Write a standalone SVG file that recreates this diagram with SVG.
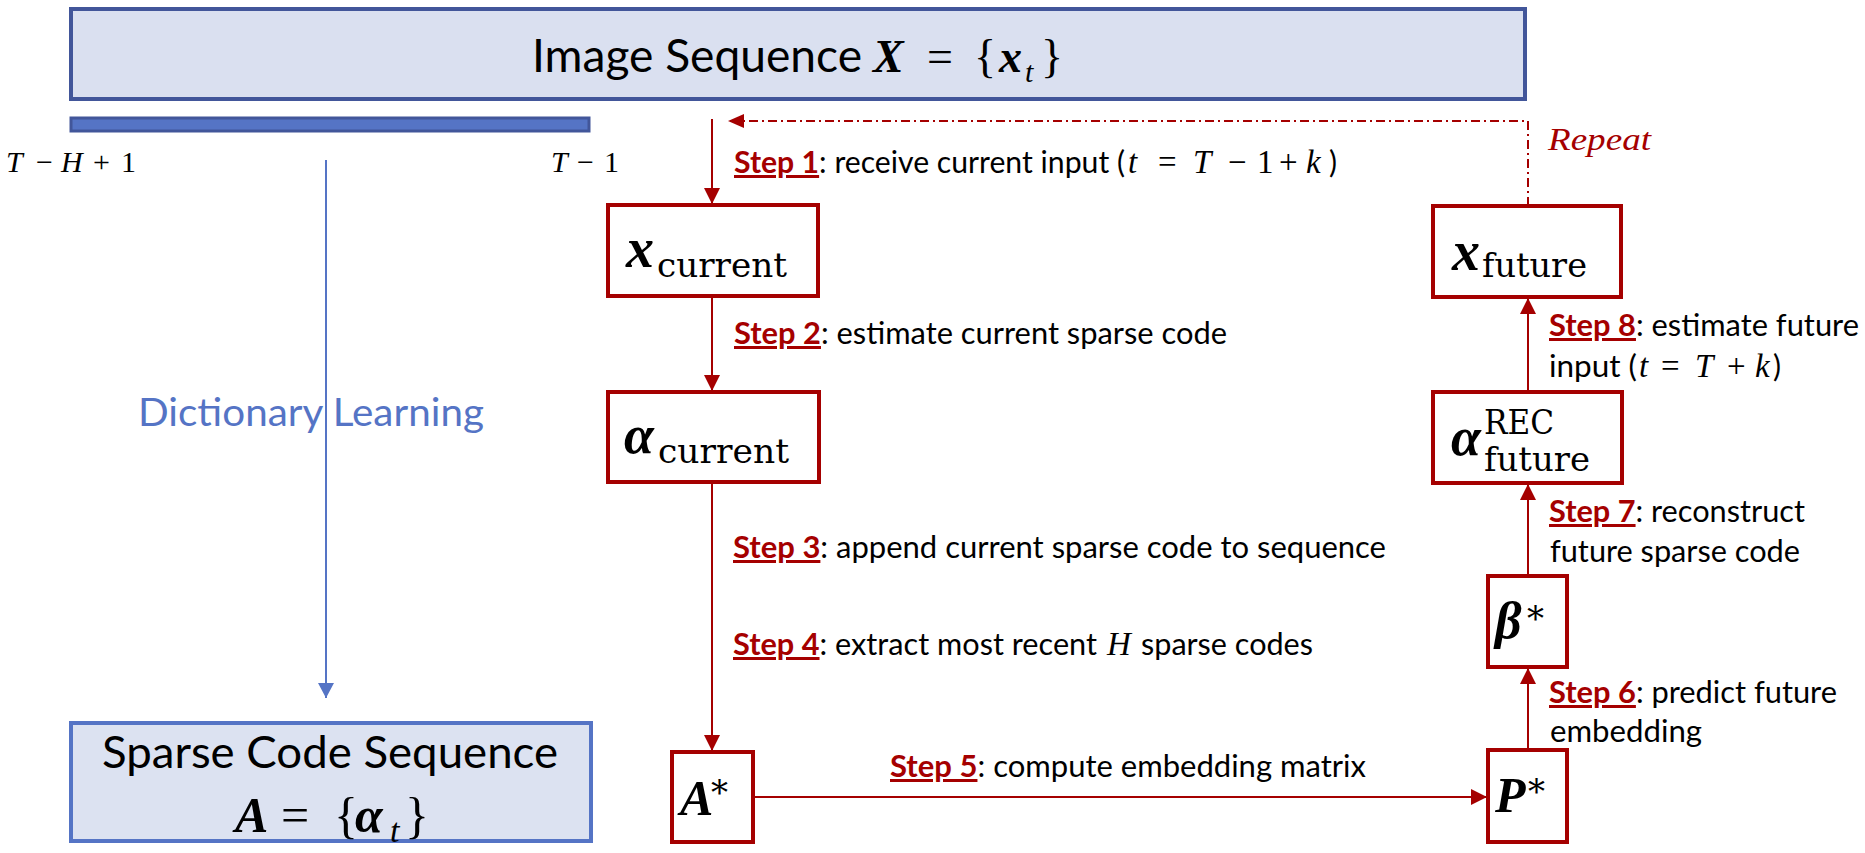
<svg xmlns="http://www.w3.org/2000/svg" width="1865" height="853" viewBox="0 0 1865 853">
<style>
.bluebox{fill:#dae0f0;stroke:#42569a;stroke-width:4}
.sbox{fill:#dce2f1;stroke:#5574c5;stroke-width:4}
.bar{fill:#5574c5;stroke:#42569a;stroke-width:3}
.rbox{fill:#fff;stroke:#a50000;stroke-width:4}
.conn{stroke:#a50000;stroke-width:2;fill:none}
.dash{stroke-dasharray:9 4 2 4}
.bline{stroke:#5574c5;stroke-width:2;fill:none}
.lbl{font-family:Lato,"Liberation Sans",sans-serif;font-size:30px;fill:#000}
.sn{fill:#a50000;font-weight:bold;text-decoration:underline}
.mb{font-family:"Liberation Serif",serif;font-weight:bold;font-style:italic;fill:#000}
.mi{font-family:"Liberation Serif",serif;font-style:italic;fill:#000}
.mr{font-family:"Liberation Serif",serif;fill:#000}
.sub{font-family:"DejaVu Serif",serif;font-size:34px;fill:#000}
.big{font-family:Lato,"Liberation Sans",sans-serif;fill:#000}
</style>
<defs>
<marker id="ar" markerUnits="userSpaceOnUse" markerWidth="16" markerHeight="16" viewBox="0 0 16 16" refX="16" refY="8" orient="auto"><path d="M0,0 L16,8 L0,16 z" fill="#a50000"/></marker>
<marker id="ard" markerUnits="userSpaceOnUse" markerWidth="16" markerHeight="14" viewBox="0 0 16 14" refX="16" refY="7" orient="auto"><path d="M0,0 L16,7 L0,14 z" fill="#a50000"/></marker>
<marker id="ab" markerUnits="userSpaceOnUse" markerWidth="15" markerHeight="16" viewBox="0 0 15 16" refX="15" refY="8" orient="auto"><path d="M0,0 L15,8 L0,16 z" fill="#5574c5"/></marker>
</defs>

<g id="image-sequence">
<rect class="bluebox" x="71" y="9" width="1454" height="90"/>
<text class="big" x="532" y="72" font-size="46" textLength="330" lengthAdjust="spacingAndGlyphs">Image Sequence</text>
<text y="72" font-size="46"><tspan class="mb" x="873">X</tspan><tspan class="mr" x="927">=</tspan><tspan class="mr" x="974">{</tspan><tspan class="mb" x="999">x</tspan><tspan class="mi" x="1025" y="82" font-size="30">t</tspan><tspan class="mr" x="1041" y="72">}</tspan></text>
</g>

<g id="time-window">
<rect class="bar" x="71" y="118" width="518" height="13"/>
<text y="172" font-size="30"><tspan class="mi" x="6">T</tspan><tspan class="mr" x="36">−</tspan><tspan class="mi" x="61">H</tspan><tspan class="mr" x="93">+</tspan><tspan class="mr" x="121">1</tspan></text>
<text y="172" font-size="30"><tspan class="mi" x="551">T</tspan><tspan class="mr" x="577">−</tspan><tspan class="mr" x="604">1</tspan></text>
</g>

<g id="sparse-code-sequence">
<rect class="sbox" x="71" y="723" width="520" height="118"/>
<text class="big" x="102" y="768" font-size="45" textLength="456" lengthAdjust="spacingAndGlyphs">Sparse Code Sequence</text>
<text y="832" font-size="50"><tspan class="mb" x="235">A</tspan><tspan class="mr" x="281">=</tspan><tspan class="mr" x="334">{</tspan><tspan class="mb" x="355">α</tspan><tspan class="mi" x="390" y="842" font-size="34">t</tspan><tspan class="mr" x="405" y="832">}</tspan></text>
</g>

<g id="dictionary-learning">
<text x="138" y="426" font-family="Lato, 'Liberation Sans', sans-serif" font-size="39" fill="#5574c5" textLength="346" lengthAdjust="spacingAndGlyphs">Dictionary Learning</text>
</g>

<g id="connectors">
<path class="bline" d="M326,160 V698" marker-end="url(#ab)"/>
<path class="conn" d="M712,119 V204" marker-end="url(#ar)"/>
<path class="conn" d="M712,296 V391" marker-end="url(#ar)"/>
<path class="conn" d="M712,482 V751" marker-end="url(#ar)"/>
<path class="conn" d="M753,797 H1487" marker-end="url(#ar)"/>
<path class="conn" d="M1528,750 V668" marker-end="url(#ar)"/>
<path class="conn" d="M1528,576 V484" marker-end="url(#ar)"/>
<path class="conn" d="M1528,392 V298" marker-end="url(#ar)"/>
<path class="conn dash" d="M1528,206 V121 H728" marker-end="url(#ard)"/>
</g>

<g id="x-current">
<rect class="rbox" x="608" y="205" width="210" height="91"/>
<text class="mb" x="626" y="267" font-size="56">x</text>
<text class="sub" x="657" y="277" textLength="130" lengthAdjust="spacingAndGlyphs">current</text>
</g>

<g id="alpha-current">
<rect class="rbox" x="608" y="392" width="211" height="90"/>
<text class="mb" x="624" y="453" font-size="54">α</text>
<text class="sub" x="658" y="463" textLength="131" lengthAdjust="spacingAndGlyphs">current</text>
</g>

<g id="A-star">
<rect class="rbox" x="672" y="752" width="81" height="90"/>
<text class="mb" x="680" y="815" font-size="50">A</text>
<text class="sub" x="711" y="804">*</text>
</g>

<g id="P-star">
<rect class="rbox" x="1488" y="750" width="79" height="92"/>
<text class="mb" x="1495" y="812" font-size="50">P</text>
<text class="sub" x="1528" y="803">*</text>
</g>

<g id="beta-star">
<rect class="rbox" x="1488" y="576" width="79" height="91"/>
<text class="mb" x="1495" y="638" font-size="52">β</text>
<text class="sub" x="1527" y="630">*</text>
</g>

<g id="alpha-future">
<rect class="rbox" x="1433" y="392" width="189" height="91"/>
<text class="mb" x="1451" y="455" font-size="54">α</text>
<text class="sub" x="1484" y="434" font-size="31" textLength="70" lengthAdjust="spacingAndGlyphs">REC</text>
<text class="sub" x="1484" y="471" textLength="106" lengthAdjust="spacingAndGlyphs">future</text>
</g>

<g id="x-future">
<rect class="rbox" x="1433" y="206" width="188" height="91"/>
<text class="mb" x="1452" y="270" font-size="56">x</text>
<text class="sub" x="1482" y="277" textLength="105" lengthAdjust="spacingAndGlyphs">future</text>
</g>

<g id="labels">
<text x="1548" y="150" font-family="'Liberation Serif', serif" font-style="italic" font-size="31" fill="#a50000" textLength="103" lengthAdjust="spacingAndGlyphs">Repeat</text>

<text class="lbl" x="734" y="173" textLength="391" lengthAdjust="spacingAndGlyphs"><tspan class="sn">Step 1</tspan>: receive current input (</text>
<text y="173" font-size="33"><tspan class="mi" x="1128">t</tspan><tspan class="mr" x="1158">=</tspan><tspan class="mi" x="1193">T</tspan><tspan class="mr" x="1228">−</tspan><tspan class="mr" x="1257">1</tspan><tspan class="mr" x="1279">+</tspan><tspan class="mi" x="1306">k</tspan></text>
<text class="lbl" x="1329" y="173">)</text>

<text class="lbl" x="734" y="344" textLength="493" lengthAdjust="spacingAndGlyphs"><tspan class="sn">Step 2</tspan>: estimate current sparse code</text>

<text class="lbl" x="733" y="558" textLength="653" lengthAdjust="spacingAndGlyphs"><tspan class="sn">Step 3</tspan>: append current sparse code to sequence</text>

<text class="lbl" x="733" y="655" textLength="364" lengthAdjust="spacingAndGlyphs"><tspan class="sn">Step 4</tspan>: extract most recent</text>
<text class="mi" x="1107" y="655" font-size="33">H</text>
<text class="lbl" x="1141" y="655" textLength="172" lengthAdjust="spacingAndGlyphs">sparse codes</text>

<text class="lbl" x="890" y="777" textLength="476" lengthAdjust="spacingAndGlyphs"><tspan class="sn">Step 5</tspan>: compute embedding matrix</text>

<text class="lbl" x="1549" y="703" textLength="288" lengthAdjust="spacingAndGlyphs"><tspan class="sn">Step 6</tspan>: predict future</text>
<text class="lbl" x="1550" y="742" textLength="152" lengthAdjust="spacingAndGlyphs">embedding</text>

<text class="lbl" x="1549" y="522" textLength="256" lengthAdjust="spacingAndGlyphs"><tspan class="sn">Step 7</tspan>: reconstruct</text>
<text class="lbl" x="1550" y="562" textLength="250" lengthAdjust="spacingAndGlyphs">future sparse code</text>

<text class="lbl" x="1549" y="336" textLength="310" lengthAdjust="spacingAndGlyphs"><tspan class="sn">Step 8</tspan>: estimate future</text>
<text class="lbl" x="1549" y="377" textLength="88" lengthAdjust="spacingAndGlyphs">input (</text>
<text y="377" font-size="33"><tspan class="mi" x="1639">t</tspan><tspan class="mr" x="1661">=</tspan><tspan class="mi" x="1695">T</tspan><tspan class="mr" x="1727">+</tspan><tspan class="mi" x="1755">k</tspan></text>
<text class="lbl" x="1773" y="377">)</text>
</g>
</svg>
